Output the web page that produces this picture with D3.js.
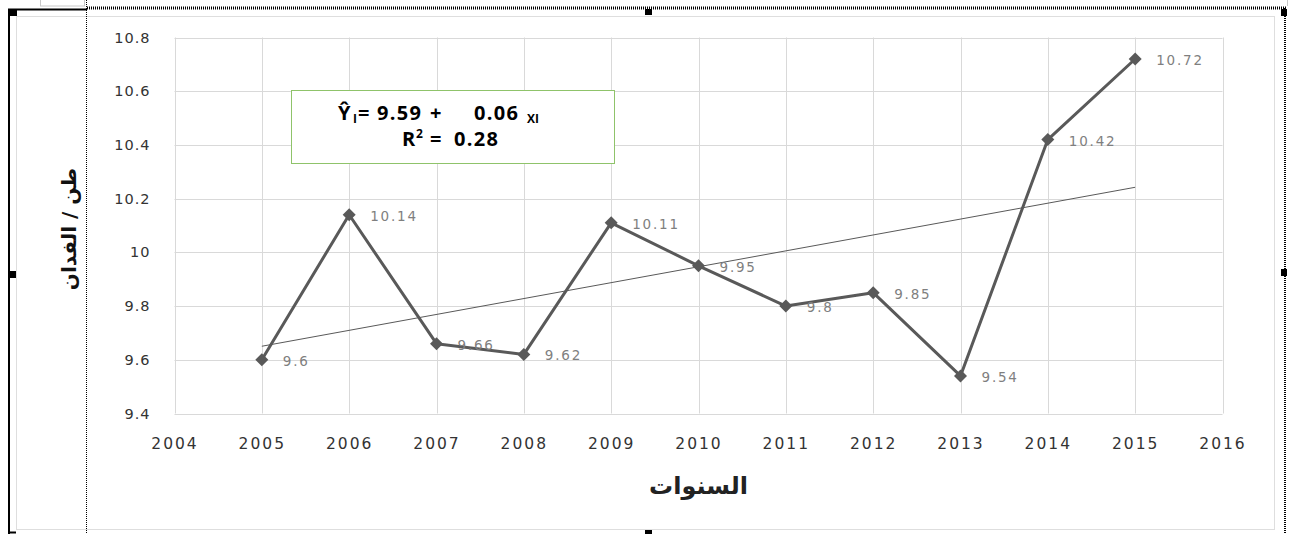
<!DOCTYPE html>
<html>
<head>
<meta charset="utf-8">
<script src="https://cdn.jsdelivr.net/npm/d3@7/dist/d3.min.js"></script>
<style>
  html, body { margin: 0; padding: 0; background: #fff; }
  svg { display: block; }
</style>
</head>
<body>
<svg id="chart" width="1290" height="534"></svg>
<script>
// ---- data ----
const years  = [2005, 2006, 2007, 2008, 2009, 2010, 2011, 2012, 2013, 2014, 2015];
const yields = [9.6, 10.14, 9.66, 9.62, 10.11, 9.95, 9.8, 9.85, 9.54, 10.42, 10.72];
const xTicks = [2004, 2005, 2006, 2007, 2008, 2009, 2010, 2011, 2012, 2013, 2014, 2015, 2016];
const yTicks = [9.4, 9.6, 9.8, 10, 10.2, 10.4, 10.6, 10.8];
const xTitle = "السنوات";
const yTitle = "طن / الفدان";
const eqLine1 = ["Ŷ", "I", "=", "9.59", "+", "0.06", "XI"];
const eqLine2 = ["R", "2", "=", "0.28"];

const svg = d3.select("#chart");

// ---- frame decorations ----
const deco = svg.append("g");
deco.append("rect").attr("x", 40.5).attr("y", -2).attr("width", 44).attr("height", 8)
  .attr("fill", "none").attr("stroke", "#c8c8c8");
deco.append("rect").attr("x", 16.5).attr("y", 16.5).attr("width", 1258).attr("height", 513)
  .attr("fill", "none").attr("stroke", "#dedede");
deco.append("line").attr("x1", 9).attr("y1", 9).attr("x2", 9).attr("y2", 534)
  .attr("stroke", "#000").attr("stroke-width", 2);
deco.append("line").attr("x1", 8).attr("y1", 9.5).attr("x2", 87).attr("y2", 9.5)
  .attr("stroke", "#000").attr("stroke-width", 2);
deco.append("line").attr("x1", 87).attr("y1", 8).attr("x2", 1286).attr("y2", 8)
  .attr("stroke", "#000").attr("stroke-width", 3).attr("stroke-dasharray", "1,1");
deco.append("line").attr("x1", 86.5).attr("y1", 0).attr("x2", 86.5).attr("y2", 534)
  .attr("stroke", "#000").attr("stroke-width", 1).attr("stroke-dasharray", "1,1");
deco.append("line").attr("x1", 1285).attr("y1", 8).attr("x2", 1285).attr("y2", 534)
  .attr("stroke", "#000").attr("stroke-width", 2).attr("stroke-dasharray", "1,1");
deco.append("line").attr("x1", 1287.5).attr("y1", 0).attr("x2", 1287.5).attr("y2", 6)
  .attr("stroke", "#c8c8c8");
[[9, 9, 8, 7], [645, 9, 7, 6], [1281, 9, 6, 7], [8, 271, 8, 7], [1281, 269, 6, 7], [645, 530, 7, 4]]
  .forEach(h => deco.append("rect").attr("x", h[0]).attr("y", h[1]).attr("width", h[2]).attr("height", h[3]).attr("fill", "#000"));
deco.append("line").attr("x1", 9).attr("y1", 532.5).attr("x2", 16).attr("y2", 532.5)
  .attr("stroke", "#000").attr("stroke-width", 2);

// ---- scales ----
const x = d3.scaleLinear().domain([2004, 2016]).range([174.5, 1222.5]);
const y = d3.scaleLinear().domain([9.4, 10.8]).range([413.5, 37.5]);

// ---- grid ----
const grid = svg.append("g");
grid.selectAll(".vg").data(xTicks).join("line")
  .attr("x1", d => Math.round(x(d)) + 0.5).attr("x2", d => Math.round(x(d)) + 0.5)
  .attr("y1", y(10.8)).attr("y2", y(9.4))
  .attr("stroke", "#d9d9d9").attr("stroke-width", 1);
grid.selectAll(".hg").data(yTicks).join("line")
  .attr("y1", d => Math.round(y(d)) + 0.5).attr("y2", d => Math.round(y(d)) + 0.5)
  .attr("x1", x(2004)).attr("x2", x(2016))
  .attr("stroke", "#d9d9d9").attr("stroke-width", 1);

// ---- axes (labels only) ----
const xAxis = svg.append("g").attr("transform", `translate(0,${y(9.4)})`)
  .call(d3.axisBottom(x).tickValues(xTicks).tickFormat(d3.format("d")).tickSize(0).tickPadding(24));
xAxis.select(".domain").remove();
xAxis.selectAll("text").attr("font-family", "DejaVu Sans, Verdana, sans-serif")
  .attr("font-size", 15.5).attr("fill", "#333").attr("letter-spacing", "2px");

const yAxis = svg.append("g").attr("transform", `translate(${x(2004)},0)`)
  .call(d3.axisLeft(y).tickValues(yTicks).tickFormat(d => d3.format("")(+d.toFixed(1))).tickSize(0).tickPadding(24));
yAxis.select(".domain").remove();
yAxis.selectAll("text").attr("font-family", "DejaVu Sans, Verdana, sans-serif")
  .attr("font-size", 14.5).attr("fill", "#333").attr("letter-spacing", "1px");

// ---- trend line (least squares on the data) ----
const n = years.length;
const mx = d3.mean(years), my = d3.mean(yields);
const slope = d3.sum(years, (d, i) => (d - mx) * (yields[i] - my)) / d3.sum(years, d => (d - mx) ** 2);
const icpt = my - slope * mx;
const x0 = years[0], x1 = years[n - 1];
svg.append("line")
  .attr("x1", x(x0)).attr("y1", y(icpt + slope * x0))
  .attr("x2", x(x1)).attr("y2", y(icpt + slope * x1))
  .attr("stroke", "#595959").attr("stroke-width", 1);

// ---- series ----
const pts = years.map((yr, i) => [yr, yields[i]]);
svg.append("path").datum(pts)
  .attr("d", d3.line().x(d => x(d[0])).y(d => y(d[1])))
  .attr("fill", "none").attr("stroke", "#595959").attr("stroke-width", 3).attr("stroke-linejoin", "round");
svg.selectAll(".mk").data(pts).join("path")
  .attr("transform", d => `translate(${x(d[0])},${y(d[1])})`)
  .attr("d", "M0,-6.5L6.5,0L0,6.5L-6.5,0Z")
  .attr("fill", "#595959");

svg.selectAll(".dl").data(pts).join("text")
  .attr("x", d => x(d[0]) + 21).attr("y", d => y(d[1]) + 1)
  .attr("dominant-baseline", "central")
  .attr("font-family", "DejaVu Sans, Verdana, sans-serif").attr("font-size", 13.5)
  .attr("letter-spacing", "1.8px").attr("fill", "#7f7f7f")
  .text(d => d[1]);

// ---- equation box ----
const eq = svg.append("g").attr("font-family", "Open Sans, Lato, sans-serif")
  .attr("font-weight", "bold").attr("fill", "#000");
eq.append("rect").attr("x", 291.5).attr("y", 90.5).attr("width", 323).attr("height", 73)
  .attr("fill", "#fff").attr("stroke", "#8fc36a").attr("stroke-width", 1);
// pieces: [text, x, baseline, size]
const l1 = [[eqLine1[0], 338, 120, 20], [eqLine1[1], 353, 123, 12], [eqLine1[2], 358, 120, 20],
            [eqLine1[3], 377, 120, 20], [eqLine1[4], 430, 120, 20], [eqLine1[5], 474, 120, 20],
            [eqLine1[6], 527, 123, 12]];
const l2 = [[eqLine2[0], 402, 146, 20], [eqLine2[1], 416, 138, 12], [eqLine2[2], 430, 146, 20],
            [eqLine2[3], 454, 146, 20]];
eq.selectAll(".eqt").data(l1.concat(l2)).join("text")
  .attr("x", d => d[1]).attr("y", d => d[2])
  .attr("font-size", d => d[3])
  .attr("letter-spacing", d => d[3] > 15 ? "1.3px" : "0px")
  .text(d => d[0]);

// ---- axis titles ----
svg.append("text").attr("x", (x(2004) + x(2016)) / 2).attr("y", 494)
  .attr("text-anchor", "middle").attr("font-family", "DejaVu Sans, sans-serif")
  .attr("font-weight", "bold").attr("font-size", 24).attr("fill", "#222")
  .attr("direction", "rtl").text(xTitle);
svg.append("text").attr("transform", "translate(76,229) rotate(-90)")
  .attr("text-anchor", "middle").attr("font-family", "DejaVu Sans, sans-serif")
  .attr("font-weight", "bold").attr("font-size", 20).attr("fill", "#111")
  .attr("direction", "rtl").text(yTitle);
</script>
</body>
</html>
